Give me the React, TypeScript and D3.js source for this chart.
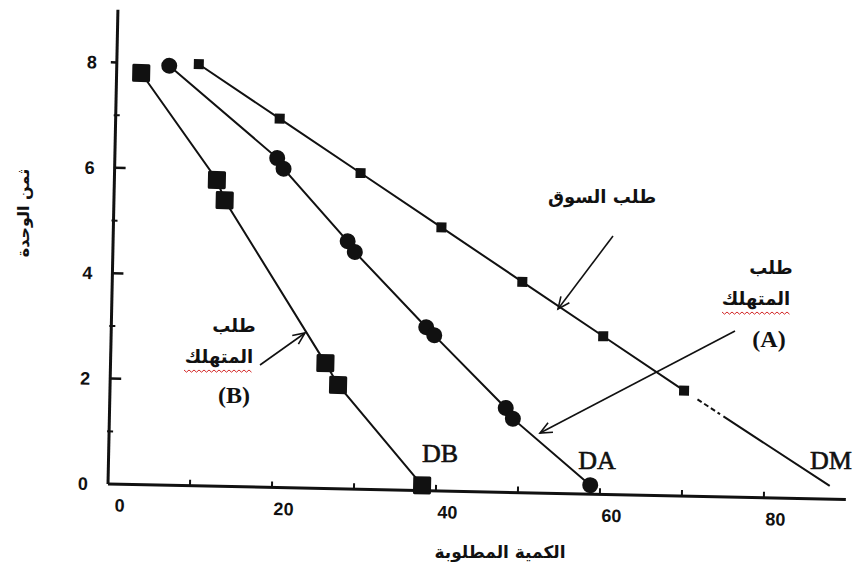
import React from 'react';
import * as d3 from 'd3';

// axis ticks
const xTickLabels = [0, 20, 40, 60, 80];
const xTickMarks = [10, 20, 30, 40, 50, 60, 70, 80];
const yTickLabels = [0, 2, 4, 6, 8];
const yMinorTicks = [1, 3, 5, 7];

// market demand DM (small squares)
const dmQ = [10, 20, 30, 40, 50, 60, 70];
const dmP = [8, 7, 6, 5, 4, 3, 2];
const dmTailQ = [70, 88];
const dmTailP = [2, 0.25];

// consumer A demand DA (circles)
const daQ = [6.4, 19.8, 20.6, 28.6, 29.5, 38.4, 39.4, 48.3, 49.2, 58.8];
const daP = [7.96, 6.25, 6.05, 4.7, 4.5, 3.1, 2.95, 1.6, 1.4, 0.17];

// consumer B demand DB (big squares)
const dbQ = [3.0, 12.5, 13.5, 26.2, 27.8, 38.3];
const dbP = [7.81, 5.81, 5.43, 2.38, 1.97, 0.1];

const W = 855;
const H = 568;

function zip(q: number[], p: number[]) {
  return q.map((v, i) => [v, p[i]] as [number, number]);
}

function Arrow({ x1, y1, x2, y2 }: { x1: number; y1: number; x2: number; y2: number }) {
  const ang = Math.atan2(y2 - y1, x2 - x1);
  const len = 13;
  const spread = 0.42;
  const a1 = ang + Math.PI - spread;
  const a2 = ang + Math.PI + spread;
  const hx1 = x2 + len * Math.cos(a1);
  const hy1 = y2 + len * Math.sin(a1);
  const hx2 = x2 + len * Math.cos(a2);
  const hy2 = y2 + len * Math.sin(a2);
  return (
    <g stroke="#111" strokeWidth={1.6} fill="none">
      <line x1={x1} y1={y1} x2={x2} y2={y2} />
      <path d={`M${hx1},${hy1}L${x2},${y2}L${hx2},${hy2}`} />
    </g>
  );
}

function Squiggle({ x, y, w }: { x: number; y: number; w: number }) {
  const n = Math.round(w / 2.5);
  let d = `M${x},${y}`;
  for (let i = 1; i <= n; i++) {
    d += `L${x + i * 2.5},${y + (i % 2 ? 2.2 : 0)}`;
  }
  return <path d={d} stroke="#d42a2a" strokeWidth={1} fill="none" />;
}

export default function App() {
  const x = d3.scaleLinear().domain([0, 90]).range([0, 738]);
  const y = d3.scaleLinear().domain([0, 9]).range([0, -474.3]);
  const line = d3
    .line<[number, number]>()
    .x((d) => x(d[0]))
    .y((d) => y(d[1]));

  const dm = zip(dmQ, dmP);
  const da = zip(daQ, daP);
  const db = zip(dbQ, dbP);
  const dmTail = zip(dmTailQ, dmTailP);

  const numFont = "'Liberation Sans', Arial, sans-serif";
  const serif = "'Liberation Serif', 'Times New Roman', serif";
  const arFont = "'DejaVu Sans', sans-serif";

  return (
    <svg
      width={W}
      height={H}
      viewBox={`0 0 ${W} ${H}`}
      style={{ position: 'absolute', left: 0, top: 0, background: '#fff' }}
    >
      <rect x={0} y={0} width={W} height={H} fill="#fff" />
      <g transform="translate(108,484) rotate(1.2)">
        {/* axes */}
        <line x1={0} y1={y(0)} x2={0} y2={y(9)} stroke="#111" strokeWidth={3} />
        <line x1={0} y1={y(0)} x2={x(90)} y2={y(0)} stroke="#111" strokeWidth={3} />
        {yTickLabels.filter((v) => v > 0).map((v) => (
          <line
            key={'yt' + v}
            x1={v === 8 ? -6 : 0}
            x2={v === 8 ? 0 : 11}
            y1={y(v)}
            y2={y(v)}
            stroke="#111"
            strokeWidth={2.5}
          />
        ))}
        {yMinorTicks.map((v) => (
          <line key={'ym' + v} x1={-2} x2={4} y1={y(v)} y2={y(v)} stroke="#111" strokeWidth={2} />
        ))}
        {xTickMarks.map((v) => (
          <line key={'xt' + v} x1={x(v)} x2={x(v)} y1={y(0)} y2={y(0) - 6} stroke="#111" strokeWidth={2} />
        ))}
        {yTickLabels.map((v) => (
          <text
            key={'yl' + v}
            x={-25}
            y={y(v)}
            dy="0.36em"
            textAnchor="middle"
            fontFamily={numFont}
            fontWeight="bold"
            fontSize={18}
            fill="#111"
          >
            {v}
          </text>
        ))}
        {xTickLabels.map((v) => (
          <text
            key={'xl' + v}
            x={x(v) + 12}
            y={y(0) + 21}
            dy="0.36em"
            textAnchor="middle"
            fontFamily={numFont}
            fontWeight="bold"
            fontSize={18}
            fill="#111"
          >
            {v}
          </text>
        ))}

        {/* DM */}
        <path d={line(dm) || ''} stroke="#111" strokeWidth={2} fill="none" />
        <path
          d={line(dmTail) || ''}
          stroke="#111"
          strokeWidth={2}
          fill="none"
          strokeDasharray="0 16 5 3 5 3 5 3 3 4 300"
        />
        {dm.map((d, i) => (
          <rect key={'dm' + i} x={x(d[0]) - 5} y={y(d[1]) - 5} width={10} height={10} fill="#111" />
        ))}

        {/* DA */}
        <path d={line(da) || ''} stroke="#111" strokeWidth={2} fill="none" />
        {da.map((d, i) => (
          <circle key={'da' + i} cx={x(d[0])} cy={y(d[1])} r={8} fill="#111" />
        ))}

        {/* DB */}
        <path d={line(db) || ''} stroke="#111" strokeWidth={2} fill="none" />
        {db.map((d, i) => (
          <rect key={'db' + i} x={x(d[0]) - 9} y={y(d[1]) - 9} width={18} height={18} rx={1.5} fill="#111" />
        ))}
      </g>

      {/* curve labels */}
      <g fontFamily={serif} fontSize={26} fill="#111" stroke="#111" strokeWidth={0.6} textAnchor="middle">
        <text x={440} y={462}>DB</text>
        <text x={597} y={469}>DA</text>
        <text x={831} y={469}>DM</text>
      </g>

      {/* market demand annotation */}
      <text x={602} y={203} textAnchor="middle" fontFamily={arFont} fontWeight="bold" fontSize={18} fill="#111">
        طلب السوق
      </text>
      <Arrow x1={613} y1={236} x2={558} y2={309} />

      {/* consumer A annotation */}
      <text x={771} y={274} textAnchor="middle" fontFamily={arFont} fontWeight="bold" fontSize={18} fill="#111">
        طلب
      </text>
      <text x={756} y={305} textAnchor="middle" fontFamily={arFont} fontWeight="bold" fontSize={18} fill="#111">
        المتهلك
      </text>
      <Squiggle x={722} y={312} w={68} />
      <text x={769} y={347} textAnchor="middle" fontFamily={serif} fontWeight="bold" fontSize={24} fill="#111">
        (A)
      </text>
      <Arrow x1={735} y1={331} x2={540} y2={433} />

      {/* consumer B annotation */}
      <text x={234} y={332} textAnchor="middle" fontFamily={arFont} fontWeight="bold" fontSize={18} fill="#111">
        طلب
      </text>
      <text x={219} y={363} textAnchor="middle" fontFamily={arFont} fontWeight="bold" fontSize={18} fill="#111">
        المتهلك
      </text>
      <Squiggle x={184} y={370} w={68} />
      <text x={234} y={403} textAnchor="middle" fontFamily={serif} fontWeight="bold" fontSize={24} fill="#111">
        (B)
      </text>
      <Arrow x1={260} y1={365} x2={305} y2={333} />

      {/* axis titles */}
      <text
        transform="translate(23,213) rotate(-90)"
        textAnchor="middle"
        dy="0.35em"
        fontFamily={arFont}
        fontWeight="bold"
        fontSize={16}
        fill="#111"
      >
        ثمن الوحدة
      </text>
      <text x={500} y={552} textAnchor="middle" dy="0.35em" fontFamily={arFont} fontWeight="bold" fontSize={17} fill="#111">
        الكمية المطلوبة
      </text>
    </svg>
  );
}
